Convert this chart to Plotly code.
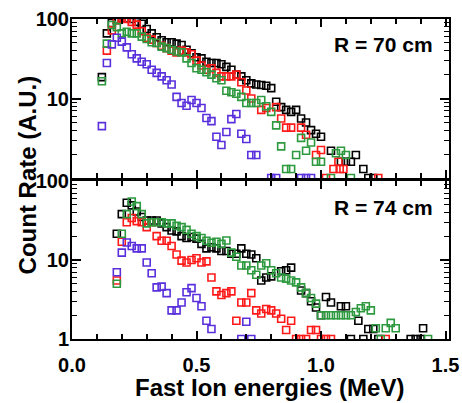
import plotly.graph_objects as go

# ---- R = 70 cm (upper panel) ----
e70_black = [0.12,0.14,0.16,0.18,0.20,0.22,0.24,0.26,0.28,0.30,0.32,0.34,0.36,0.38,0.40,0.42,0.44,0.46,0.48,0.50,
             0.52,0.54,0.56,0.58,0.60,0.62,0.64,0.66,0.68,0.70,0.72,0.74,0.76,0.78,0.80,0.82,0.84,0.86,0.88,0.90,
             0.92,0.94,0.96,0.98,1.00,1.04,1.08,1.10,1.12,1.14,1.17,1.19,1.21]
r70_black = [18.6,66,89,98,102,101,100,92,87,75,66,59,54,51,51,49,47,41,37,33,
             32,29,28,28,27,25,23,20,19,17,15.5,15,14.8,14.5,13.5,9.1,7.8,7.2,6.8,7.2,
             5.6,5.0,4.0,3.6,3.3,2.2,1.6,1.6,1.6,1.95,1.3,1,1]

e70_red = [0.14,0.16,0.18,0.20,0.22,0.24,0.26,0.28,0.30,0.32,0.34,0.36,0.38,0.40,0.42,0.44,0.46,0.48,0.50,0.52,
           0.54,0.56,0.58,0.60,0.62,0.64,0.66,0.68,0.70,0.72,0.76,0.78,0.82,0.84,0.86,0.88,0.92,0.94,0.98,1.00,
           1.02,1.05,1.07,1.075,1.09,1.23]
r70_red = [40,72,96,101,100,92,85,70,58,55,50,46,43,40,38,40,38,36,30,26,
           23,24,21,19,19,19,20,16,12.6,10,7.2,7.6,7.8,5.6,4.3,4.3,4.3,3.5,1.95,2.25,
           1,1.3,1.6,1.3,1.3,1]

e70_green = [0.12,0.14,0.16,0.18,0.20,0.22,0.24,0.26,0.28,0.30,0.32,0.34,0.36,0.38,0.40,0.42,0.44,0.46,0.48,0.50,
             0.52,0.54,0.56,0.58,0.60,0.62,0.64,0.66,0.68,0.70,0.72,0.74,0.76,0.78,0.80,0.82,0.84,0.86,0.88,0.90,
             0.92,0.94,0.96,0.98,1.00,1.04,1.06,1.08,1.10,1.12]
r70_green = [16.5,49,84,79,66,69,66,66,60,56,51,50,45,43,41,39,38,32,28,24,
             23,21.5,20,18,17,12.5,12,11.5,10.5,8.8,8.8,8.8,9.6,8,6.8,4.6,2.5,1.3,1.3,1.95,
             3.2,2.2,2.8,1.6,1.6,1,2.05,2.2,1.95,1]

e70_blue = [0.12,0.14,0.16,0.18,0.20,0.22,0.24,0.26,0.28,0.30,0.32,0.34,0.36,0.38,0.40,0.42,0.44,0.46,0.48,0.50,
            0.52,0.54,0.56,0.58,0.60,0.62,0.64,0.66,0.68,0.70,0.72,0.74,0.80,0.82,0.92,0.94,0.96]
r70_blue = [4.5,28,48,58,52,44,36,32,29,27,23,21,19,17,15,10.5,8.8,8.1,9.6,8.8,
            7.6,5.7,5.2,3.3,2.6,3.8,5.5,6.4,3.6,3.1,1.95,1.95,1,1,1,1,1]

# ---- R = 74 cm (lower panel) ----
e74_black = [0.18,0.20,0.22,0.24,0.26,0.28,0.30,0.32,0.34,0.36,0.38,0.40,0.42,0.44,0.46,0.48,0.50,0.52,0.54,0.56,
             0.58,0.60,0.62,0.64,0.66,0.68,0.70,0.72,0.74,0.76,0.78,0.80,0.84,0.86,0.88,0.92,0.94,0.96,0.98,1.00,
             1.02,1.04,1.08,1.10,1.12,1.15,1.17,1.19,1.21,1.23,1.36,1.38,1.40,1.41]
r74_black = [21.5,38,53,49,41,35,31.5,31.5,31.5,29,26,23.6,23,20,19,19.5,18.6,16,14,14.5,
             14,13,13,12,12,14,12,11.7,10.5,5.5,6,6.2,7.2,7.4,8,4.1,3.8,3,2.5,2.0,
             3.4,2.9,2.6,2.6,1,1.7,1,1.34,1.34,1,1,1,1,1.37]

e74_red = [0.18,0.20,0.22,0.24,0.26,0.28,0.30,0.32,0.34,0.36,0.38,0.40,0.42,0.44,0.46,0.48,0.50,0.52,0.54,0.56,
           0.58,0.60,0.62,0.64,0.66,0.68,0.70,0.72,0.74,0.76,0.78,0.80,0.82,0.84,0.86,0.88,0.90,0.92,0.94,0.96,
           0.98,1.00,1.02,1.04,1.26]
r74_red = [5.5,17,30,34,31,30,26,30,20,17.5,17.5,15,11.7,9.8,9.3,10,10.5,9.3,9.6,6,
           4,3.6,3.8,4,1.7,2.9,2.9,3.8,2.3,2.1,2.4,2.3,2.1,1.8,1.3,1.7,1,1,1,1.3,
           1.3,1,1,1,1]

e74_blue = [0.18,0.20,0.22,0.24,0.26,0.28,0.30,0.32,0.34,0.36,0.38,0.40,0.42,0.44,0.46,0.48,0.50,0.52,0.54,0.56,
            0.68,0.70,0.72]
r74_blue = [7,12.4,16.6,15,14,14,9.3,6.8,4.5,4.6,3.8,2.3,2.3,2.9,3.9,4.4,3.3,2.6,1.7,1.34,
            1,1.65,1]

e74_green = [0.18,0.20,0.22,0.24,0.26,0.28,0.30,0.32,0.34,0.36,0.38,0.40,0.42,0.44,0.46,0.48,0.50,0.52,0.54,0.56,
             0.58,0.60,0.62,0.64,0.66,0.68,0.70,0.72,0.74,0.76,0.78,0.80,0.82,0.84,0.86,0.88,0.90,0.92,0.94,0.96,
             0.98,1.00,1.02,1.04,1.06,1.08,1.10,1.12,1.14,1.16,1.18,1.20,1.22,1.24,1.26,1.28,1.30,1.43]
r74_green = [5,21.5,38,55,48,38,29,30,30,30,29,29,27,26,24,21.5,20,19,17.5,16.5,
             17,16,17.6,12.4,11,8.5,8.5,7.4,6.5,8.5,9.1,7.4,6.8,6,5.8,5.5,5.2,4.5,3.8,3.3,
             2.8,2.0,2.0,2.0,2.0,2.0,2.0,2.0,2.2,2.45,2.6,2.3,1.37,1,1.37,1.6,1.37,1]

x_tickvals = [0, 0.5, 1.0, 1.5]
x_ticktext = ["0.0", "0.5", "1.0", "1.5"]
minor_log = [2, 3, 4, 5, 6, 7, 8, 9, 20, 30, 40, 50, 60, 70, 80, 90]

BLACK = "#000000"
RED = "#ff1a1a"
GREEN = "#2e9a40"
BLUE = "#5a30dc"
FONT = "Liberation Sans"

fig = go.Figure()


def add_series(e, r, color, xa, ya):
    fig.add_trace(go.Scatter(
        x=e, y=r, mode="markers", xaxis=xa, yaxis=ya,
        marker=dict(symbol="square-open", size=7, color=color,
                    line=dict(width=1.6, color=color)),
        showlegend=False,
    ))


# upper panel
add_series(e70_black, r70_black, BLACK, "x2", "y2")
add_series(e70_red, r70_red, RED, "x2", "y2")
add_series(e70_green, r70_green, GREEN, "x2", "y2")
add_series(e70_blue, r70_blue, BLUE, "x2", "y2")
# lower panel
add_series(e74_black, r74_black, BLACK, "x", "y")
add_series(e74_red, r74_red, RED, "x", "y")
add_series(e74_blue, r74_blue, BLUE, "x", "y")
add_series(e74_green, r74_green, GREEN, "x", "y")

xcommon = dict(
    range=[0, 1.514], showline=True, linewidth=2, linecolor="black",
    mirror="allticks", ticks="inside", ticklen=8, tickwidth=1.5, tickcolor="black",
    tickvals=x_tickvals, ticktext=x_ticktext, showgrid=False, zeroline=False,
    ticklabelstandoff=7,
    minor=dict(dtick=0.1, tick0=0, ticks="inside", ticklen=5, tickwidth=1.5,
               tickcolor="black", showgrid=False),
    tickfont=dict(family=FONT, size=20, color="black", weight="bold"),
)
ycommon = dict(
    type="log", range=[0, 2], showline=True, linewidth=2, linecolor="black",
    mirror="allticks", ticks="inside", ticklen=9, tickwidth=1.5, tickcolor="black",
    showgrid=False, zeroline=False, ticklabelstandoff=-3,
    minor=dict(tickmode="array", tickvals=minor_log, ticks="inside", ticklen=5,
               tickwidth=1.2, tickcolor="black", showgrid=False),
    tickfont=dict(family=FONT, size=20, color="black", weight="bold"),
)

fig.update_layout(
    width=462, height=403,
    margin=dict(l=72, r=13, t=19, b=64, autoexpand=False),
    paper_bgcolor="white", plot_bgcolor="white",
    xaxis=dict(xcommon, anchor="y"),
    yaxis=dict(ycommon, domain=[0, 0.494], anchor="x",
               tickvals=[1, 10, 100], ticktext=["1", "10", "100"]),
    xaxis2=dict(xcommon, anchor="y2", matches="x", showticklabels=False),
    yaxis2=dict(ycommon, domain=[0.503, 1], anchor="x2",
                tickvals=[10, 100], ticktext=["10", "100"]),
    annotations=[
        dict(text="R = 70 cm", xref="x2 domain", yref="y2 domain", x=0.825, y=0.84,
             showarrow=False, xanchor="center", yanchor="middle",
             font=dict(family=FONT, size=21, color="black", weight="bold")),
        dict(text="R = 74 cm", xref="x domain", yref="y domain", x=0.825, y=0.83,
             showarrow=False, xanchor="center", yanchor="middle",
             font=dict(family=FONT, size=21, color="black", weight="bold")),
        dict(text="Fast Ion energies (MeV)", xref="paper", yref="paper", x=0.525, y=-0.153,
             showarrow=False, xanchor="center", yanchor="middle",
             font=dict(family=FONT, size=24, color="black", weight="bold")),
        dict(text="Count Rate (A.U.)", xref="paper", yref="paper", x=-0.117, y=0.514,
             showarrow=False, xanchor="center", yanchor="middle", textangle=-90,
             font=dict(family=FONT, size=24, color="black", weight="bold")),
    ],
)

fig.write_html("out.html")
